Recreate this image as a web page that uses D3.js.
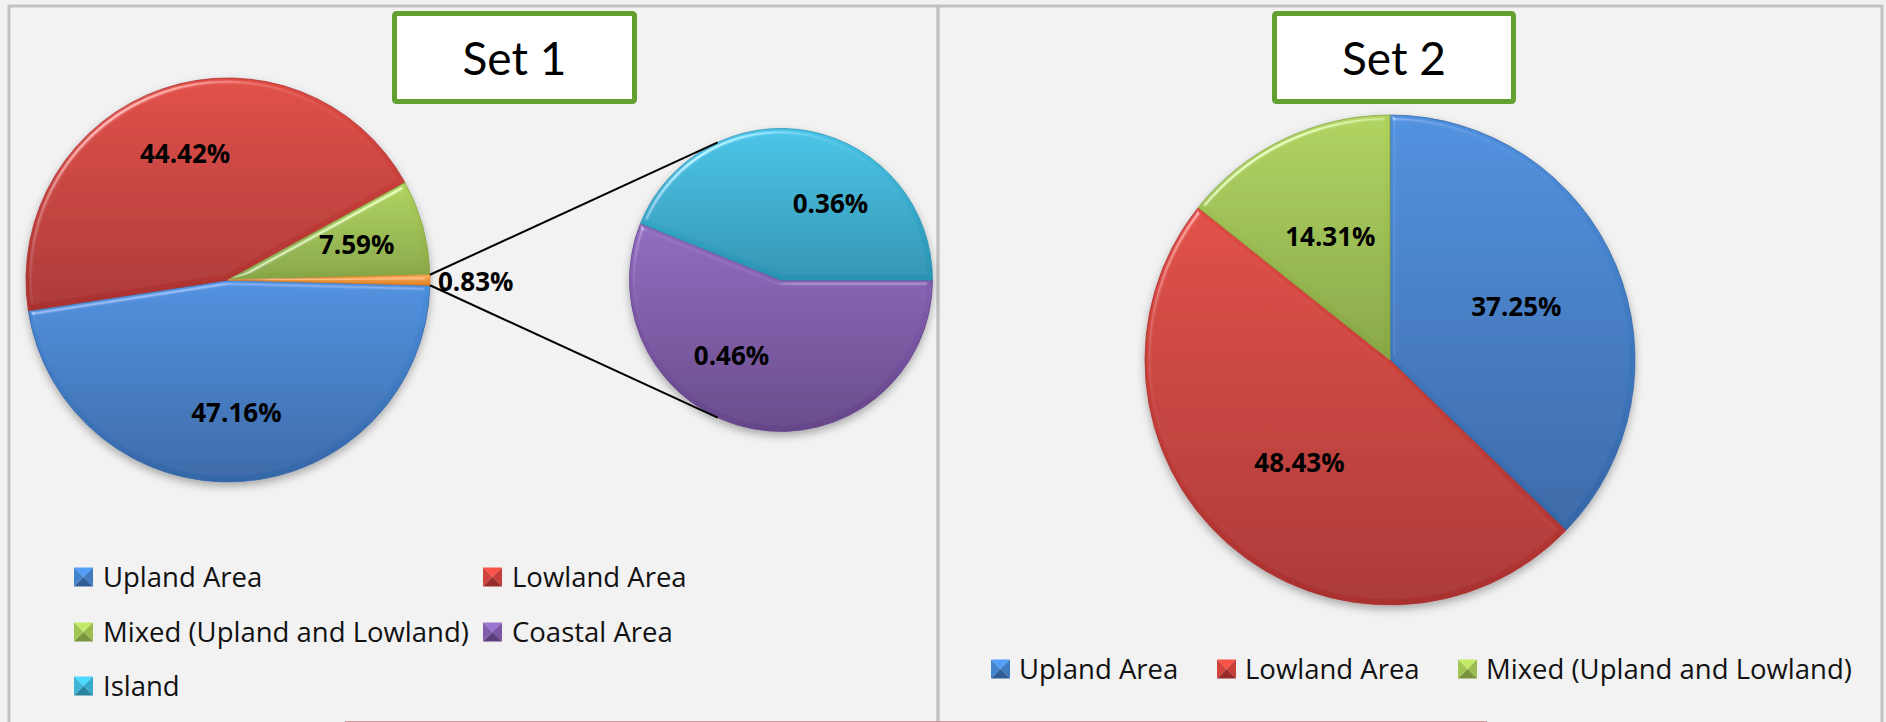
<!DOCTYPE html>
<html>
<head>
<meta charset="utf-8">
<script src="https://cdn.jsdelivr.net/npm/d3@7"></script>
<style>
  html, body { margin: 0; padding: 0; background: #f2f2f2; }
  svg { display: block; }
  .title { font-family: Lato, "Open Sans", sans-serif; font-size: 46px; fill: #000; }
  .legend text { font-family: "Open Sans", sans-serif; font-size: 27.5px; fill: #111; }
  .label { font-family: "Open Sans", sans-serif; font-size: 26px; font-weight: bold; fill: #000; }
</style>
</head>
<body>
<svg width="1886" height="722"></svg>
<script>
// ---- data ----
let titles = ["Set 1", "Set 2"];

// set 1 : pie of pie, the small slices are split out into the second pie
let setOneCategories = ["Upland Area", "Lowland Area", "Mixed (Upland and Lowland)", "Coastal Area", "Island"];
let setOneMain = ["Upland Area", "Lowland Area", "Mixed (Upland and Lowland)", "Other"];
let setOneMainValues = [47.16, 44.42, 7.59, 0.83];
let setOneSub = ["Coastal Area", "Island"];
let setOneSubValues = [0.46, 0.36];

// set 2
let setTwoCategories = ["Upland Area", "Lowland Area", "Mixed (Upland and Lowland)"];
let setTwoValues = [37.25, 48.43, 14.31];

// light / dark shade of each category
let colors = {
  "Upland Area": ["#4b8fde", "#3566a6"],
  "Lowland Area": ["#e04a42", "#a9312f"],
  "Mixed (Upland and Lowland)": ["#afd25c", "#86a544"],
  "Other": ["#fbb25c", "#de7e22"],
  "Coastal Area": ["#8f69be", "#654589"],
  "Island": ["#45c4e7", "#2b92b1"]
};

let svg = d3.select("svg"),
    width = +svg.attr("width"),
    height = +svg.attr("height");

let fmt = function(v) { return d3.format(".2f")(v) + "%"; };
let key = function(c) { return c.replace(/[^A-Za-z]/g, ""); };

// ---- defs: gradients, bevel, shadow ----
let defs = svg.append("defs");

Object.keys(colors).forEach(function(c) {
  let lg = defs.append("linearGradient")
      .attr("id", "grad-" + key(c))
      .attr("x1", 0).attr("y1", 0).attr("x2", 0).attr("y2", 1);
  lg.append("stop").attr("offset", "0%").attr("stop-color", colors[c][0]);
  lg.append("stop").attr("offset", "100%").attr("stop-color", colors[c][1]);
});

let bevel = defs.append("filter").attr("id", "bevel")
    .attr("x", "-5%").attr("y", "-5%").attr("width", "110%").attr("height", "110%");
bevel.append("feGaussianBlur").attr("in", "SourceAlpha").attr("stdDeviation", 2.5).attr("result", "blur");
let spec = bevel.append("feSpecularLighting").attr("in", "blur")
    .attr("surfaceScale", 4).attr("specularConstant", 0.8).attr("specularExponent", 35)
    .attr("lighting-color", "#ffffff").attr("result", "spec");
spec.append("feDistantLight").attr("azimuth", 235).attr("elevation", 40);
bevel.append("feComposite").attr("in", "spec").attr("in2", "SourceAlpha").attr("operator", "in").attr("result", "specIn");
bevel.append("feComposite").attr("in", "SourceGraphic").attr("in2", "specIn")
    .attr("operator", "arithmetic").attr("k1", 0).attr("k2", 1).attr("k3", 0.6).attr("k4", 0);

let shadow = defs.append("filter").attr("id", "shadow")
    .attr("x", "-10%").attr("y", "-10%").attr("width", "120%").attr("height", "125%");
shadow.append("feDropShadow").attr("dx", 0).attr("dy", 4).attr("stdDeviation", 4)
    .attr("flood-color", "#000").attr("flood-opacity", 0.3);

// ---- panels ----
svg.append("rect").attr("width", width).attr("height", height).attr("fill", "#f2f2f2");

let panels = [{x: 9, w: 929}, {x: 938, w: 944}];
panels.forEach(function(p) {
  svg.append("rect")
      .attr("x", p.x).attr("y", 6)
      .attr("width", p.w).attr("height", height + 20)
      .attr("fill", "none")
      .attr("stroke", "#c2c2c2")
      .attr("stroke-width", 3);
});

// the faint line along the bottom edge
svg.append("line")
    .attr("x1", 345).attr("x2", 1487)
    .attr("y1", height - 0.5).attr("y2", height - 0.5)
    .attr("stroke", "#d49a9a").attr("stroke-width", 1);

// title boxes
let titleBoxes = [{x: 394.5, w: 240}, {x: 1274.5, w: 239}];
titleBoxes.forEach(function(b, i) {
  svg.append("rect")
      .attr("x", b.x).attr("y", 13.5)
      .attr("width", b.w).attr("height", 88)
      .attr("rx", 2)
      .attr("fill", "#ffffff")
      .attr("stroke", "#62a030")
      .attr("stroke-width", 5);
  svg.append("text")
      .attr("class", "title")
      .attr("x", b.x + b.w / 2)
      .attr("y", 75)
      .attr("text-anchor", "middle")
      .text(titles[i]);
});

// ---- pies ----
// labelTurn rotates the label spots a little, as excel does on the small pie
function drawPie(cats, values, cx, cy, r, startAngle, labelFrac, labelTurn, skipLabel) {
  let pie = d3.pie().sort(null)
      .startAngle(startAngle).endAngle(startAngle + 2 * Math.PI)
      .value(function(d) { return d; });
  let arcs = pie(values);
  let arc = d3.arc().innerRadius(0).outerRadius(r);
  let labelArc = d3.arc().innerRadius(r * labelFrac).outerRadius(r * labelFrac);
  let turn = labelTurn * Math.PI / 180;

  let g = svg.append("g")
      .attr("transform", "translate(" + cx + "," + cy + ")");

  g.append("g")
      .attr("filter", "url(#shadow)")
    .selectAll("path")
    .data(arcs)
    .enter().append("path")
      .attr("d", arc)
      .attr("fill", function(d, i) { return "url(#grad-" + key(cats[i]) + ")"; })
      .attr("stroke", function(d, i) { return colors[cats[i]][1]; })
      .attr("stroke-width", 0.8)
      .attr("filter", "url(#bevel)");

  g.selectAll("text.label")
    .data(arcs.filter(function(d, i) { return cats[i] !== skipLabel; }))
    .enter().append("text")
      .attr("class", "label")
      .attr("transform", function(d) {
        let t = {startAngle: d.startAngle + turn, endAngle: d.endAngle + turn};
        return "translate(" + labelArc.centroid(t) + ")";
      })
      .attr("text-anchor", "middle")
      .attr("dy", "0.35em")
      .text(function(d) { return fmt(d.value); });

  return {g: g, arcs: arcs, cx: cx, cy: cy, r: r};
}

// set 1 main pie: the "Other" slice sits centred on 3 o'clock
let otherFrac = setOneMainValues[3] / d3.sum(setOneMainValues);
let main = drawPie(setOneMain, setOneMainValues, 228, 280, 202,
                   Math.PI / 2 + Math.PI * otherFrac, 0.66, 0, "Other");
let sub = drawPie(setOneSub, setOneSubValues, 781, 280, 151.5, Math.PI / 2, 0.6, 22);
drawPie(setTwoCategories, setTwoValues, 1390, 360, 245, 0, 0.56, 0);

// label of the "Other" slice, outside the pie
let other = main.arcs[3];
let outArc = d3.arc().innerRadius(main.r + 8).outerRadius(main.r + 8);
let op = outArc.centroid(other);
main.g.append("text")
    .attr("class", "label")
    .attr("x", op[0]).attr("y", op[1] + 2)
    .attr("dy", "0.35em")
    .text(fmt(other.value));

// connector lines: from the edges of the "Other" slice, tangent to the second pie
function edgePoint(p, a) {
  return [p.cx + p.r * Math.sin(a), p.cy - p.r * Math.cos(a)];
}
function tangent(pt, p, up) {
  let dx = pt[0] - p.cx, dy = pt[1] - p.cy;
  let d = Math.sqrt(dx * dx + dy * dy);
  let base = Math.atan2(dy, dx);
  let off = Math.acos(p.r / d) * (up ? -1 : 1);
  return [p.cx + p.r * Math.cos(base + off), p.cy + p.r * Math.sin(base + off)];
}
let topStart = edgePoint(main, other.startAngle),
    botStart = edgePoint(main, other.endAngle);
[[topStart, tangent(topStart, sub, false)], [botStart, tangent(botStart, sub, true)]].forEach(function(seg) {
  svg.append("line")
      .attr("x1", seg[0][0]).attr("y1", seg[0][1])
      .attr("x2", seg[1][0]).attr("y2", seg[1][1])
      .attr("stroke", "#000")
      .attr("stroke-width", 2);
});

// ---- legends ----
function marker(g, c, x, y, s) {
  let c0 = colors[c][0], c1 = colors[c][1];
  let mid = d3.interpolateRgb(c0, c1)(0.5);
  let m = [x + s / 2, y + s / 2];
  let faces = [
    {pts: [[x, y], [x + s, y], m], fill: d3.color(c0).brighter(0.3)},
    {pts: [[x + s, y], [x + s, y + s], m], fill: mid},
    {pts: [[x + s, y + s], [x, y + s], m], fill: d3.color(c1).darker(0.3)},
    {pts: [[x, y + s], [x, y], m], fill: d3.interpolateRgb(c0, c1)(0.3)}
  ];
  g.selectAll(null).data(faces).enter().append("path")
      .attr("d", function(f) { return d3.line()(f.pts) + "Z"; })
      .attr("fill", function(f) { return f.fill; });
}

let legendOne = svg.append("g").attr("class", "legend");
let colX = [74, 483], rowY = [577, 632, 686];
setOneCategories.forEach(function(c, i) {
  let x = colX[i % 2], y = rowY[Math.floor(i / 2)];
  marker(legendOne, c, x, y - 9.5, 19);
  legendOne.append("text").attr("x", x + 29).attr("y", y).attr("dy", "0.35em").text(c);
});

let legendTwo = svg.append("g").attr("class", "legend");
let itemX = [991, 1217, 1458];
setTwoCategories.forEach(function(c, i) {
  let x = itemX[i], y = 669;
  marker(legendTwo, c, x, y - 9.5, 19);
  legendTwo.append("text").attr("x", x + 28).attr("y", y).attr("dy", "0.35em").text(c);
});
</script>
</body>
</html>
